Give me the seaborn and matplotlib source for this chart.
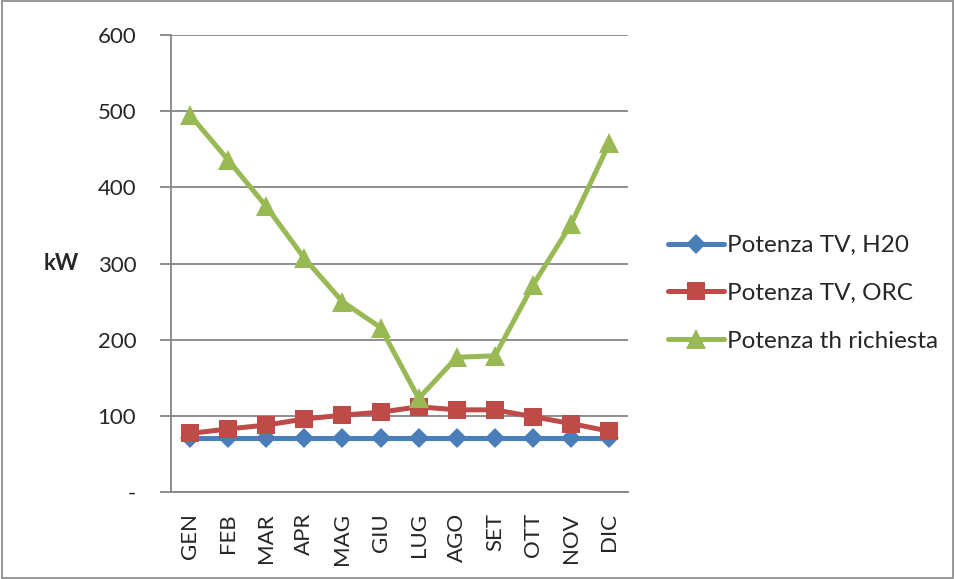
import matplotlib
matplotlib.use("Agg")
import matplotlib.pyplot as plt
import seaborn as sns
import pandas as pd
from matplotlib.ticker import FixedLocator, FuncFormatter

# Monthly power values (kW)
months = ["GEN", "FEB", "MAR", "APR", "MAG", "GIU", "LUG", "AGO", "SET", "OTT", "NOV", "DIC"]
tv_h2o = [71, 71, 71, 71, 71, 71, 71, 71, 71, 71, 71, 71]
tv_orc = [77, 83, 88, 96, 101, 105, 112, 108, 108, 99, 90, 80]
th_richiesta = [495, 436, 375, 307, 250, 216, 123, 177, 179, 272, 352, 458]

series_names = ["Potenza TV, H20", "Potenza TV, ORC", "Potenza th richiesta"]
series_colors = ["#4A7EBB", "#BE4B48", "#98B954"]
series_markers = ["D", "s", "^"]
marker_sizes = [10, 13, 14]

df = pd.DataFrame({
    "mese": months * 3,
    "kW": tv_h2o + tv_orc + th_richiesta,
    "serie": [series_names[0]] * 12 + [series_names[1]] * 12 + [series_names[2]] * 12,
})

sns.set_style("white")
plt.rcParams["font.family"] = ["Lato", "DejaVu Sans"]

fig = plt.figure(figsize=(9.55, 5.79), dpi=100)
ax = fig.add_axes([0.179, 0.150, 0.479, 0.7896])

grid_col = "#868686"
for name, col, mk, ms in zip(series_names, series_colors, series_markers, marker_sizes):
    sub = df[df["serie"] == name]
    sns.lineplot(data=sub, x="mese", y="kW", ax=ax, color=col, marker=mk,
                 markersize=ms, markeredgewidth=0, linewidth=3.6, label=name,
                 sort=False, zorder=3)

ax.set_xlim(-0.5, len(months) - 0.5)
ax.set_ylim(0, 600)
ax.set_yticks([0, 100, 200, 300, 400, 500, 600])
ax.yaxis.set_major_formatter(FuncFormatter(lambda v, p: "-" if v == 0 else f"{int(v)}"))
ax.grid(axis="y", color=grid_col, linewidth=1.3)
ax.set_axisbelow(True)

# category labels without marks; tick marks between categories
ax.set_xticks(range(len(months)))
ax.set_xticklabels(months, rotation=90, fontsize=16)
ax.tick_params(axis="x", which="major", length=0, pad=15)
ax.xaxis.set_minor_locator(FixedLocator([i - 0.5 for i in range(len(months) + 1)]))
ax.tick_params(axis="x", which="minor", length=8, width=1.3, color=grid_col, direction="out")
ax.tick_params(axis="y", which="major", length=8, width=1.3, color=grid_col,
               direction="out", labelsize=16, pad=17, left=True)

for side in ["top", "right"]:
    ax.spines[side].set_visible(False)
for side in ["left", "bottom"]:
    ax.spines[side].set_color(grid_col)
    ax.spines[side].set_linewidth(1.3)

ax.set_xlabel("")
ax.set_ylabel("kW", rotation=0, fontsize=16, fontweight="bold", labelpad=26, va="center")

leg = ax.legend(loc="center left", bbox_to_anchor=(1.038, 0.435), frameon=False,
                fontsize=17.5, handlelength=2.3, handletextpad=0.15, labelspacing=1.1,
                numpoints=1)

# outer frame around the chart
fig.patches.append(plt.Rectangle((0.002, 0.002), 0.996, 0.996, transform=fig.transFigure,
                                 fill=False, edgecolor="#868686", linewidth=1.2))

fig.savefig("out.png", dpi=100)
